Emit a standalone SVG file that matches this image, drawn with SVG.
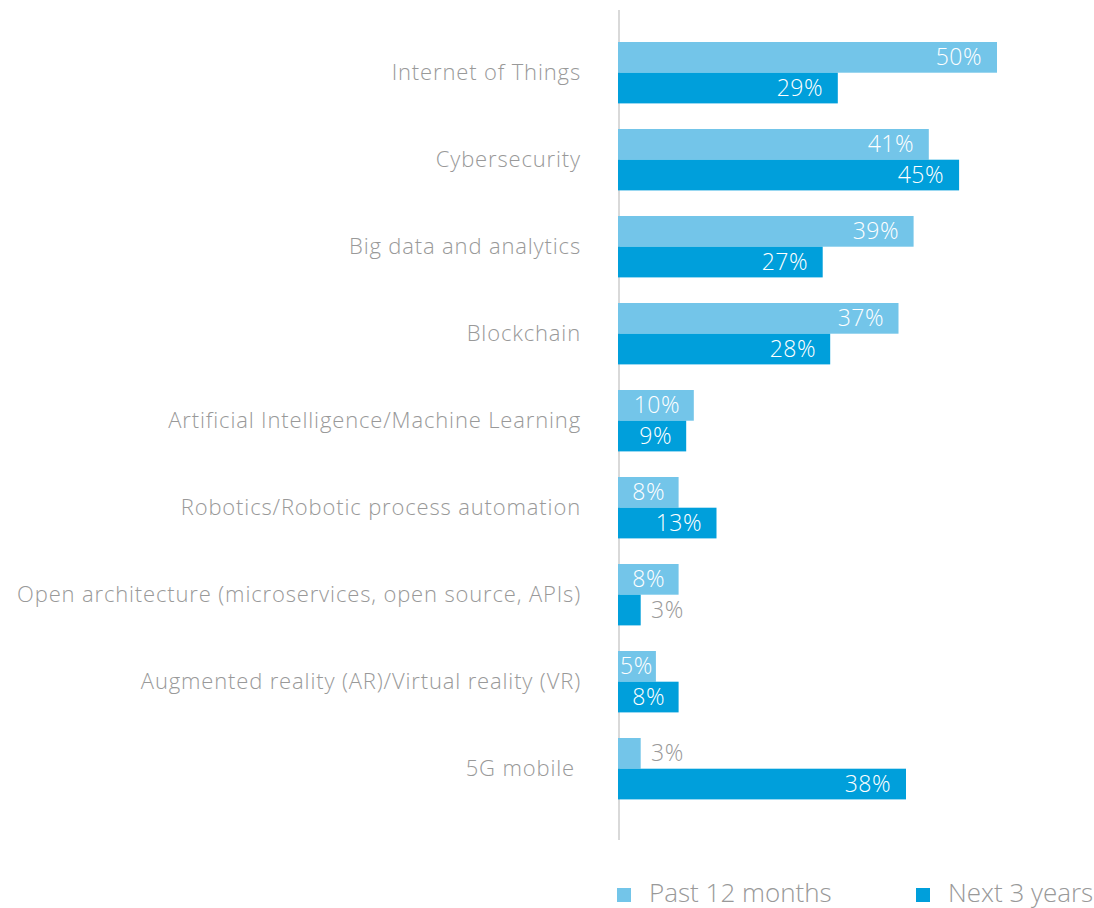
<svg xmlns="http://www.w3.org/2000/svg" width="1094" height="908" viewBox="0 0 1094 908">
<style>
.cat{font-family:"Open Sans","Liberation Sans",sans-serif;font-weight:300;font-size:22px;letter-spacing:0.85px;fill:#999999;text-anchor:end}
.val{font-family:"Open Sans","Liberation Sans",sans-serif;font-weight:300;font-size:23px;letter-spacing:0.5px;fill:#ffffff;text-anchor:end}
.out{font-family:"Open Sans","Liberation Sans",sans-serif;font-weight:300;font-size:23px;letter-spacing:0.5px;fill:#999999}
.leg{font-family:"Open Sans","Liberation Sans",sans-serif;font-weight:300;font-size:26px;fill:#999999}
.lt{fill:#73c5e9}
.dk{fill:#009fdb}
</style>
<rect width="1094" height="908" fill="#ffffff"/>
<line x1="619" y1="10" x2="619" y2="840" stroke="#d9d9d9" stroke-width="2"/>
<g id="iot">
<text class="cat" x="581" y="80">Internet of Things</text>
<rect class="lt" x="618" y="42" width="379" height="30.7"/>
<text class="val" x="982" y="65">50%</text>
<rect class="dk" x="618" y="72.7" width="219.8" height="30.7"/>
<text class="val" x="823" y="95.7">29%</text>
</g>
<g id="cyber">
<text class="cat" x="581" y="167">Cybersecurity</text>
<rect class="lt" x="618" y="129" width="310.8" height="30.7"/>
<text class="val" x="914" y="152">41%</text>
<rect class="dk" x="618" y="159.7" width="341.1" height="30.7"/>
<text class="val" x="944" y="182.7">45%</text>
</g>
<g id="bigdata">
<text class="cat" x="581" y="254">Big data and analytics</text>
<rect class="lt" x="618" y="216" width="295.6" height="30.7"/>
<text class="val" x="899" y="239">39%</text>
<rect class="dk" x="618" y="246.7" width="204.7" height="30.7"/>
<text class="val" x="808" y="269.7">27%</text>
</g>
<g id="blockchain">
<text class="cat" x="581" y="341">Blockchain</text>
<rect class="lt" x="618" y="303" width="280.5" height="30.7"/>
<text class="val" x="884" y="326">37%</text>
<rect class="dk" x="618" y="333.7" width="212.2" height="30.7"/>
<text class="val" x="816" y="356.7">28%</text>
</g>
<g id="ai">
<text class="cat" x="581" y="428">Artificial Intelligence/Machine Learning</text>
<rect class="lt" x="618" y="390" width="75.8" height="30.7"/>
<text class="val" x="680" y="413">10%</text>
<rect class="dk" x="618" y="420.7" width="68.2" height="30.7"/>
<text class="val" x="672" y="443.7">9%</text>
</g>
<g id="robotics">
<text class="cat" x="581" y="515">Robotics/Robotic process automation</text>
<rect class="lt" x="618" y="477" width="60.6" height="30.7"/>
<text class="val" x="665" y="500">8%</text>
<rect class="dk" x="618" y="507.7" width="98.5" height="30.7"/>
<text class="val" x="702" y="530.7">13%</text>
</g>
<g id="openarch">
<text class="cat" x="581" y="602">Open architecture (microservices, open source, APIs)</text>
<rect class="lt" x="618" y="564" width="60.6" height="30.7"/>
<text class="val" x="665" y="587">8%</text>
<rect class="dk" x="618" y="594.7" width="22.7" height="30.7"/>
<text class="out" x="651" y="617.7">3%</text>
</g>
<g id="arvr">
<text class="cat" x="581" y="689">Augmented reality (AR)/Virtual reality (VR)</text>
<rect class="lt" x="618" y="651" width="37.9" height="30.7"/>
<text class="val" x="620" y="674" style="text-anchor:start">5%</text>
<rect class="dk" x="618" y="681.7" width="60.6" height="30.7"/>
<text class="val" x="665" y="704.7">8%</text>
</g>
<g id="fiveg">
<text class="cat" x="575" y="776">5G mobile</text>
<rect class="lt" x="618" y="738" width="22.7" height="30.7"/>
<text class="out" x="651" y="761">3%</text>
<rect class="dk" x="618" y="768.7" width="288" height="30.7"/>
<text class="val" x="891" y="791.7">38%</text>
</g>
<g id="legend">
<rect class="lt" x="617" y="888" width="14" height="14"/>
<text class="leg" x="649" y="902">Past 12 months</text>
<rect class="dk" x="916" y="888" width="14" height="14"/>
<text class="leg" x="948" y="902">Next 3 years</text>
</g>
<g id="connectors"></g>
</svg>
